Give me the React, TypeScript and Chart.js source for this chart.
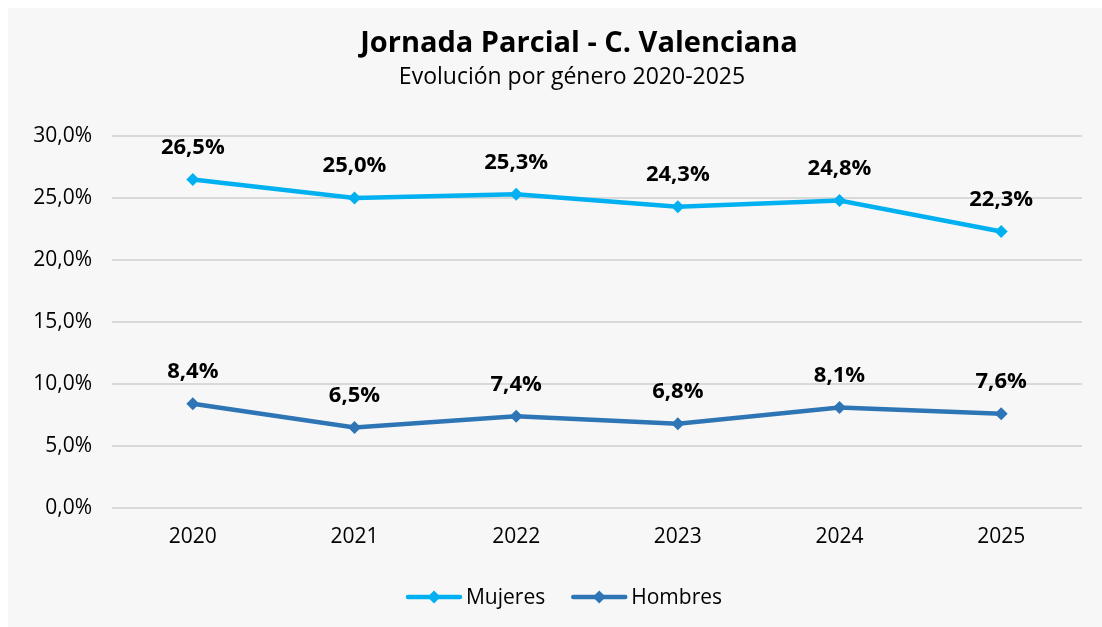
import React, { useEffect, useRef } from "react";
import { Chart, registerables } from "chart.js";

Chart.register(...registerables);

const years = ["2020", "2021", "2022", "2023", "2024", "2025"];
const mujeres = [26.5, 25.0, 25.3, 24.3, 24.8, 22.3];
const hombres = [8.4, 6.5, 7.4, 6.8, 8.1, 7.6];
const seriesNames = ["Mujeres", "Hombres"];
const seriesColors = ["#00b0f0", "#2e75b6"];
const titleText = "Jornada Parcial - C. Valenciana";
const subtitleText = "Evolución por género 2020-2025";

const FONT = "'Open Sans', 'Noto Sans', sans-serif";
const fmt = (v: number) => v.toFixed(1).replace(".", ",") + "%";

const overlayPlugin = {
  id: "overlay",
  afterDatasetsDraw(chart: any) {
    const ctx = chart.ctx;
    ctx.save();
    // data labels
    ctx.fillStyle = "#000";
    ctx.font = `bold 22px ${FONT}`;
    ctx.textAlign = "center";
    ctx.textBaseline = "middle";
    chart.data.datasets.forEach((ds: any, i: number) => {
      const meta = chart.getDatasetMeta(i);
      meta.data.forEach((pt: any, j: number) => {
        ctx.fillText(fmt(ds.data[j]), pt.x, pt.y - 32);
      });
    });
    // title
    ctx.font = `bold 29px ${FONT}`;
    ctx.fillText(titleText, 571, 36);
    ctx.font = `23px ${FONT}`;
    ctx.fillText(subtitleText, 564, 69);
    // legend
    ctx.font = `21px ${FONT}`;
    const lineLen = 56;
    const gapAfter = 4;
    const itemGap = 26;
    const widths = seriesNames.map((n) => lineLen + gapAfter + ctx.measureText(n).width);
    const total = widths.reduce((a, b) => a + b, 0) + itemGap * (seriesNames.length - 1);
    let x = 556 - total / 2;
    const y = 589;
    seriesNames.forEach((n, i) => {
      ctx.strokeStyle = seriesColors[i];
      ctx.lineWidth = 4.5;
      ctx.lineCap = "round";
      ctx.beginPath();
      ctx.moveTo(x + 2, y);
      ctx.lineTo(x + lineLen - 2, y);
      ctx.stroke();
      ctx.fillStyle = seriesColors[i];
      const cx = x + lineLen / 2;
      const r = 6.5;
      ctx.beginPath();
      ctx.moveTo(cx, y - r);
      ctx.lineTo(cx + r, y);
      ctx.lineTo(cx, y + r);
      ctx.lineTo(cx - r, y);
      ctx.closePath();
      ctx.fill();
      ctx.fillStyle = "#000";
      ctx.textAlign = "left";
      ctx.fillText(n, x + lineLen + gapAfter, y + 1);
      x += widths[i] + itemGap;
    });
    ctx.restore();
  },
};

export default function App() {
  const ref = useRef<HTMLCanvasElement>(null);
  useEffect(() => {
    if (!ref.current) return;
    const chart = new Chart(ref.current, {
      type: "line",
      data: {
        labels: years,
        datasets: [
          {
            label: seriesNames[0],
            data: mujeres,
            borderColor: seriesColors[0],
            backgroundColor: seriesColors[0],
            borderWidth: 4.5,
            pointStyle: "rectRot",
            pointRadius: 6.5,
            pointBorderWidth: 0,
            tension: 0,
          },
          {
            label: seriesNames[1],
            data: hombres,
            borderColor: seriesColors[1],
            backgroundColor: seriesColors[1],
            borderWidth: 4.5,
            pointStyle: "rectRot",
            pointRadius: 6.5,
            pointBorderWidth: 0,
            tension: 0,
          },
        ],
      },
      options: {
        responsive: false,
        animation: false,
        layout: { padding: { top: 128, right: 20, left: 0, bottom: 59 } },
        plugins: {
          legend: { display: false },
          title: { display: false },
          tooltip: { enabled: false },
        },
        scales: {
          x: {
            offset: true,
            grid: { display: false, drawTicks: false },
            border: { display: false },
            ticks: { color: "#000", font: { family: FONT, size: 21 }, padding: 16 },
            afterFit: (s: any) => {
              s.height = 60;
            },
          },
          y: {
            min: 0,
            max: 30,
            ticks: {
              stepSize: 5,
              color: "#000",
              padding: 20,
              font: { family: FONT, size: 21 },
              callback: (v: any) => fmt(Number(v)),
            },
            grid: { color: "#d9d9d9", lineWidth: 2, drawTicks: false },
            border: { display: false },
            afterFit: (s: any) => {
              s.width = 104;
            },
          },
        },
      },
      plugins: [overlayPlugin],
    });
    return () => chart.destroy();
  }, []);
  return (
    <div
      style={{
        position: "fixed",
        left: 8,
        top: 8,
        width: 1094,
        height: 619,
        background: "#f7f7f7",
      }}
    >
      <canvas ref={ref} width={1094} height={619} />
    </div>
  );
}
